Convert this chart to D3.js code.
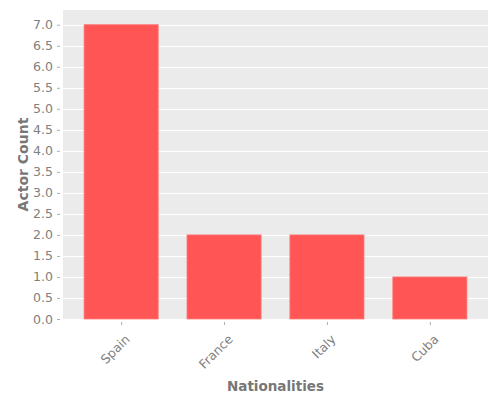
<!DOCTYPE html>
<html>
<head>
<meta charset="utf-8">
<script src="https://cdn.jsdelivr.net/npm/d3@7"></script>
<style>
  body { margin: 0; background: #fff; }
  text { font-family: "DejaVu Sans", sans-serif; }
</style>
</head>
<body>
<div id="chart"></div>
<script>
    const nationalities = ['Spain', 'France', 'Italy', 'Cuba'];
    const actorCounts = [7, 2, 2, 1];
    const yTicks = d3.range(0, 7.01, 0.5);

    const width = 500, height = 400;
    const margin = { top: 10, right: 12, bottom: 81, left: 63 };
    const innerW = width - margin.left - margin.right;
    const innerH = height - margin.top - margin.bottom;

    const svg = d3.select('#chart')
      .append('svg')
      .attr('width', width)
      .attr('height', height);

    const g = svg.append('g')
      .attr('transform', `translate(${margin.left},${margin.top})`);

    // bars at integer positions, width 0.72, padded like matplotlib
    const barW = 0.72;
    const x = d3.scaleLinear()
      .domain([-0.565, nationalities.length - 1 + 0.565])
      .range([0, innerW]);

    const y = d3.scaleLinear()
      .domain([0, 7.35])
      .range([innerH, 0]);

    // background
    g.append('rect')
      .attr('width', innerW)
      .attr('height', innerH)
      .attr('fill', '#EBEBEB');

    // grid
    g.selectAll('.grid')
      .data(yTicks)
      .join('line')
        .attr('class', 'grid')
        .attr('x1', 0)
        .attr('x2', innerW)
        .attr('y1', d => Math.round(y(d)) + 0.5)
        .attr('y2', d => Math.round(y(d)) + 0.5)
        .attr('stroke', '#fff')
        .attr('stroke-width', 1);

    // bars
    g.selectAll('.bar')
      .data(actorCounts)
      .join('rect')
        .attr('class', 'bar')
        .attr('x', (d, i) => x(i - barW / 2))
        .attr('width', x(barW) - x(0))
        .attr('y', d => y(d))
        .attr('height', d => y(0) - y(d))
        .attr('fill', '#FF5555')
        .attr('stroke', '#FF7A7A')
        .attr('stroke-width', 0.8);

    // y axis
    const yAxis = g.append('g')
      .attr('transform', 'translate(-3,0)')
      .call(d3.axisLeft(y).tickValues(yTicks).tickFormat(d3.format('.1f')).tickSize(3).tickPadding(4));
    yAxis.select('.domain').remove();
    yAxis.selectAll('line').attr('stroke', '#999').attr('stroke-width', 0.8);
    yAxis.selectAll('text')
      .attr('fill', '#808080')
      .style('font-size', '12.5px');

    // x axis
    const xAxis = g.append('g')
      .attr('transform', `translate(0,${innerH + 3})`)
      .call(d3.axisBottom(x).tickValues(d3.range(nationalities.length))
        .tickFormat(i => nationalities[i]).tickSize(3).tickPadding(4));
    xAxis.select('.domain').remove();
    xAxis.selectAll('line').attr('stroke', '#999').attr('stroke-width', 0.8);
    xAxis.selectAll('text')
      .attr('fill', '#808080')
      .style('font-size', '12.5px')
      .attr('text-anchor', 'end')
      .attr('dy', '0.35em')
      .attr('transform', 'translate(1,10) rotate(-45)');

    // axis titles
    svg.append('text')
      .attr('x', margin.left + innerW / 2)
      .attr('y', 391)
      .attr('text-anchor', 'middle')
      .attr('font-weight', 'bold')
      .attr('fill', '#777')
      .style('font-size', '13.5px')
      .text('Nationalities');

    svg.append('text')
      .attr('transform', `translate(28,${margin.top + innerH / 2}) rotate(-90)`)
      .attr('text-anchor', 'middle')
      .attr('font-weight', 'bold')
      .attr('fill', '#777')
      .style('font-size', '14px')
      .text('Actor Count');
</script>
</body>
</html>
